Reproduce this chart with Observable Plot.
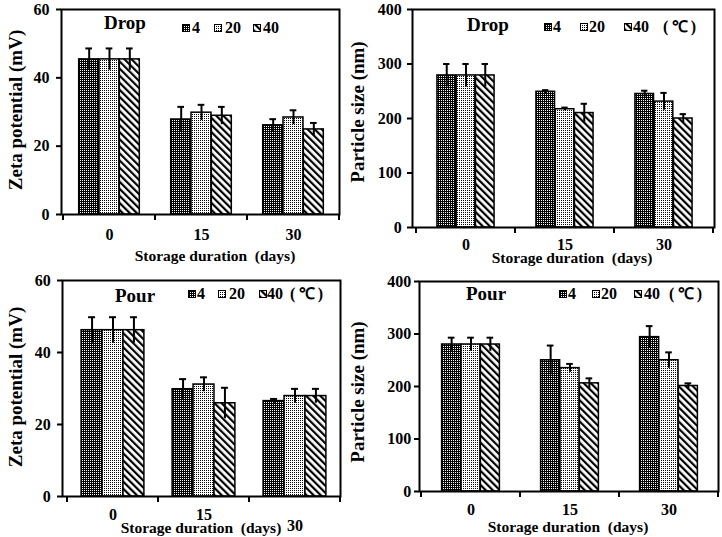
<!DOCTYPE html>
<html>
<head>
<meta charset="utf-8">
<script src="https://cdn.jsdelivr.net/npm/d3@7"></script>
<script src="https://cdn.jsdelivr.net/npm/@observablehq/plot@0.6"></script>
<style>
  body { margin: 0; background: #fff; }
  #root { position: relative; width: 722px; height: 537px; overflow: hidden; background: #fff;
          font-family: "Liberation Serif", "Times New Roman", serif; font-weight: bold; color: #000; }
  .panel { position: absolute; }
  .ytitle { position: absolute; transform: translate(-50%, -50%) rotate(-90deg); white-space: nowrap; font-size: 19px; }
  .xtitle { position: absolute; transform: translate(-50%, -50%); white-space: nowrap; font-size: 15.5px; line-height: 1; }
  .tag { position: absolute; transform: translateY(-50%); white-space: nowrap; font-size: 19px; }
  .leg { position: absolute; transform: translateY(-50%); white-space: nowrap; font-size: 16px; line-height: 1; }
  .sw { position: absolute; transform: translateY(-50%); }
</style>
</head>
<body>
<svg width="0" height="0" style="position:absolute">
  <defs>
    <pattern id="pat4" patternUnits="userSpaceOnUse" width="2" height="2">
      <rect width="2" height="2" fill="#000"/>
      <rect width="1" height="1" fill="#fff"/>
    </pattern>
    <pattern id="pat20" patternUnits="userSpaceOnUse" width="2" height="2">
      <rect width="2" height="2" fill="#fff"/>
      <rect width="1" height="1" fill="#000"/>
    </pattern>
    <pattern id="pat40" patternUnits="userSpaceOnUse" width="5" height="5" patternTransform="rotate(-45)">
      <rect width="5" height="5" fill="#fff"/>
      <rect width="2.2" height="5" fill="#000"/>
    </pattern>
  </defs>
</svg>
<div id="root"></div>
<script>
// ---- categories ----
const days = ["0", "15", "30"];
const temps = ["4", "20", "40"];

// ---- Drop: zeta potential (mV) ----
const dropZeta4 = [45.4, 27.8, 26.1];
const dropZeta20 = [45.4, 29.8, 28.4];
const dropZeta40 = [45.4, 28.9, 24.9];
const dropZetaErr4 = [3.2, 3.7, 1.8];
const dropZetaErr20 = [3.2, 2.3, 2.1];
const dropZetaErr40 = [3.2, 2.6, 1.9];

// ---- Drop: particle size (nm) ----
const dropSize4 = [279, 249, 245];
const dropSize20 = [279, 217, 231];
const dropSize40 = [279, 210, 200];
const dropSizeErr4 = [21, 3, 6];
const dropSizeErr20 = [21, 3, 16];
const dropSizeErr40 = [21, 17, 8];

// ---- Pour: zeta potential (mV) ----
const pourZeta4 = [46.2, 29.8, 26.5];
const pourZeta20 = [46.2, 31.1, 27.9];
const pourZeta40 = [46.2, 25.9, 27.9];
const pourZetaErr4 = [3.6, 2.8, 0.6];
const pourZetaErr20 = [3.6, 2.0, 2.0];
const pourZetaErr40 = [3.6, 4.3, 2.0];

// ---- Pour: particle size (nm) ----
const pourSize4 = [280, 250, 294];
const pourSize20 = [280, 235, 250];
const pourSize40 = [280, 206, 201];
const pourSizeErr4 = [13, 28, 21];
const pourSizeErr20 = [13, 8, 15];
const pourSizeErr40 = [13, 9.5, 5];

// ---- tick labels ----
const zetaTicks = [0, 20, 40, 60];
const sizeTicks = [0, 100, 200, 300, 400];

const root = document.getElementById("root");

function el(cls, html, left, top) {
  const d = document.createElement("div");
  d.className = cls;
  d.innerHTML = html;
  d.style.left = left + "px";
  d.style.top = top + "px";
  root.appendChild(d);
  return d;
}

function swatch(t, left, top) {
  return el("sw", `<svg width="8" height="8" style="display:block"><rect x="0.5" y="0.5" width="7" height="7" fill="url(#pat${t})" stroke="#000" stroke-width="1"/></svg>`, left, top);
}

function panel(cfg) {
  const {left, top, width, height, mL, mT, mR, mB, xInset, ratio, xPads, yPad, yDomain, yTicks, series, errs} = cfg;
  const rows = [];
  temps.forEach((t, k) => days.forEach((d, i) => rows.push({day: d, temp: t, value: series[k][i], err: errs[k][i]})));
  const bw = (width - mL - mR - xInset) / 3;
  const barW = ratio * bw / 3;
  const g = (bw - 3 * barW) / 2;
  const capHalf = 3.5;

  const marks = [];
  temps.forEach((t, k) => {
    const rk = rows.filter(r => r.temp === t);
    marks.push(Plot.barY(rk, {
      x: "day", y: "value", fill: `url(#pat${t})`, stroke: "#000", strokeWidth: 1.5,
      insetLeft: g + k * barW, insetRight: bw - g - (k + 1) * barW
    }));
  });
  temps.forEach((t, k) => {
    const rk = rows.filter(r => r.temp === t);
    const off = (k - 1) * barW;
    marks.push(Plot.ruleX(rk, {
      x: "day", y1: d => d.value - d.err, y2: d => d.value + d.err, dx: off, stroke: "#000", strokeWidth: 2
    }));
    marks.push(Plot.tickY(rk, {
      x: "day", y: d => d.value + d.err, stroke: "#000", strokeWidth: 2,
      insetLeft: bw / 2 + off - capHalf, insetRight: bw / 2 - off - capHalf
    }));
  });
  marks.push(Plot.frame({stroke: "#000", strokeWidth: 2}));
  marks.push(Plot.axisY({ticks: yTicks, tickSize: 5, tickPadding: yPad, label: null, tickFormat: d => String(d), strokeWidth: 2}));
  xPads.forEach(([ticks, pad]) => {
    marks.push(Plot.axisX({ticks, tickSize: 0, tickPadding: pad, label: null}));
  });

  const plot = Plot.plot({
    width, height,
    marginLeft: mL, marginTop: mT, marginRight: mR, marginBottom: mB,
    x: {domain: days, paddingInner: 0, paddingOuter: 0, insetLeft: xInset, axis: null},
    y: {domain: yDomain, axis: null},
    style: {fontFamily: "'Liberation Serif', 'Times New Roman', serif", fontSize: "16px", fontWeight: "bold", color: "#000", background: "transparent", overflow: "visible"},
    marks
  });

  // category boundary ticks on the x axis (from the plot's own band scale)
  const xs = plot.scale("x");
  const bounds = xs.domain.map(d => xs.apply(d));
  bounds.push(xs.apply(xs.domain[xs.domain.length - 1]) + xs.bandwidth);
  const y0 = height - mB;
  d3.select(plot).append("g")
    .selectAll("line").data(bounds).join("line")
    .attr("x1", d => d).attr("x2", d => d)
    .attr("y1", y0).attr("y2", y0 + 6)
    .attr("stroke", "#000").attr("stroke-width", 2);

  const wrap = document.createElement("div");
  wrap.className = "panel";
  wrap.style.left = left + "px";
  wrap.style.top = top + "px";
  wrap.appendChild(plot);
  root.appendChild(wrap);
}

// Panel 1: Drop zeta
panel({left: 0, top: 0, width: 361, height: 268, mL: 61, mT: 9, mR: 22, mB: 54, xInset: 1, ratio: 0.66,
  xPads: [[days, 14]], yPad: 7, yDomain: [0, 60], yTicks: zetaTicks,
  series: [dropZeta4, dropZeta20, dropZeta40], errs: [dropZetaErr4, dropZetaErr20, dropZetaErr40]});
// Panel 2: Drop size
panel({left: 361, top: 0, width: 361, height: 268, mL: 51, mT: 9, mR: 8, mB: 41, xInset: 3, ratio: 0.58,
  xPads: [[days, 11.5]], yPad: 5.7, yDomain: [0, 400], yTicks: sizeTicks,
  series: [dropSize4, dropSize20, dropSize40], errs: [dropSizeErr4, dropSizeErr20, dropSizeErr40]});
// Panel 3: Pour zeta
panel({left: 0, top: 268, width: 361, height: 269, mL: 62, mT: 12, mR: 21, mB: 41, xInset: 5, ratio: 0.69,
  xPads: [[["0", "15"], 12.5], [["30"], 23]], yPad: 6.7, yDomain: [0, 60], yTicks: zetaTicks,
  series: [pourZeta4, pourZeta20, pourZeta40], errs: [pourZetaErr4, pourZetaErr20, pourZetaErr40]});
// Panel 4: Pour size
panel({left: 361, top: 268, width: 361, height: 269, mL: 58, mT: 13, mR: 4, mB: 46, xInset: 1, ratio: 0.585,
  xPads: [[days, 12.5]], yPad: 3.3, yDomain: [0, 400], yTicks: sizeTicks,
  series: [pourSize4, pourSize20, pourSize40], errs: [pourSizeErr4, pourSizeErr20, pourSizeErr40]});

// Axis titles
el("ytitle", "Zeta potential (mV)", 16, 110);
el("ytitle", "Particle size (nm)", 358, 112);
el("ytitle", "Zeta potential (mV)", 16, 387);
el("ytitle", "Particle size (nm)", 358, 392);
el("xtitle", "Storage duration&nbsp;&nbsp;(days)", 215, 256);
el("xtitle", "Storage duration&nbsp;&nbsp;(days)", 572, 258);
el("xtitle", "Storage duration&nbsp;&nbsp;(days)", 201, 528);
el("xtitle", "Storage duration&nbsp;&nbsp;(days)", 568, 527);

// Panel tags
el("tag", "Drop", 104, 23);
el("tag", "Drop", 467, 25);
el("tag", "Pour", 115, 296);
el("tag", "Pour", 466, 294);

// Legends
function legend(items, y, unitX) {
  items.forEach(([t, sx, tx]) => {
    swatch(t, sx, y);
    el("leg", t, tx, y);
  });
  if (unitX != null) el("leg", "(&thinsp;℃&thinsp;)", unitX, y);
}
legend([["4", 182, 192], ["20", 214, 225], ["40", 253, 263]], 28, null);
legend([["4", 544, 553], ["20", 580, 589], ["40", 624, 633]], 27, 663);
legend([["4", 188, 197], ["20", 218, 229], ["40", 259, 267]], 294, 290);
legend([["4", 559, 568], ["20", 592, 601], ["40", 634, 644]], 294, 669);
</script>
</body>
</html>
